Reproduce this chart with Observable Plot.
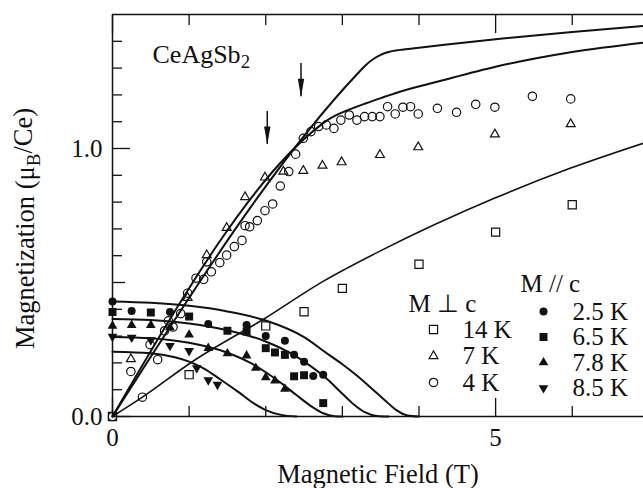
<!DOCTYPE html>
<html><head><meta charset="utf-8">
<script src="https://cdn.jsdelivr.net/npm/d3@7"></script>
<script src="https://cdn.jsdelivr.net/npm/@observablehq/plot@0.6"></script>
<style>body{margin:0;background:#fff}</style>
</head><body><div id="chart"></div>
<script>
// ---- data ----
// M perpendicular c, open symbols
const perp14KX = [0, 1.0, 2.0, 2.5, 3.0, 4.0, 5.0, 6.0];
const perp14KY = [0, 0.156, 0.338, 0.391, 0.478, 0.568, 0.688, 0.79];
const perp7KX = [0.24, 0.98, 1.23, 1.49, 1.73, 1.99, 2.23, 2.49, 2.74, 2.99, 3.49, 3.99, 4.99, 5.98];
const perp7KY = [0.214, 0.443, 0.602, 0.704, 0.819, 0.892, 0.914, 0.917, 0.936, 0.949, 0.976, 1.005, 1.053, 1.091];
const perp4KX = [0, 0.24, 0.39, 0.49, 0.59, 0.68, 0.73, 0.79, 0.89, 0.98, 1.09, 1.19, 1.23, 1.29, 1.40, 1.49, 1.59, 1.69, 1.73, 1.79, 1.89, 1.99, 2.09, 2.19, 2.30, 2.39, 2.49, 2.59, 2.69, 2.79, 2.89, 2.98, 3.09, 3.19, 3.29, 3.39, 3.49, 3.59, 3.69, 3.79, 3.89, 3.99, 4.24, 4.49, 4.74, 4.99, 5.48, 5.98];
const perp4KY = [0, 0.168, 0.072, 0.268, 0.212, 0.32, 0.357, 0.334, 0.384, 0.46, 0.516, 0.512, 0.577, 0.54, 0.574, 0.602, 0.634, 0.657, 0.712, 0.708, 0.731, 0.768, 0.793, 0.86, 0.914, 0.979, 1.038, 1.063, 1.082, 1.088, 1.075, 1.106, 1.125, 1.106, 1.119, 1.119, 1.119, 1.156, 1.129, 1.154, 1.156, 1.129, 1.15, 1.135, 1.165, 1.154, 1.195, 1.185];
// M parallel c, filled symbols
const par25KX = [0, 0.25, 0.75, 1.25, 1.75, 2.0, 2.25, 2.37, 2.5, 2.62, 2.75];
const par25KY = [0.429, 0.394, 0.39, 0.345, 0.341, 0.30, 0.283, 0.23, 0.204, 0.151, 0.156];
const par65KX = [0, 0.5, 1.0, 1.5, 1.75, 2.0, 2.12, 2.25, 2.37, 2.5, 2.75];
const par65KY = [0.39, 0.388, 0.373, 0.32, 0.317, 0.255, 0.239, 0.23, 0.15, 0.154, 0.05];
const par78KX = [0, 0.25, 0.5, 0.75, 1.0, 1.25, 1.5, 1.75, 1.87, 2.0, 2.12, 2.25];
const par78KY = [0.338, 0.341, 0.341, 0.332, 0.305, 0.255, 0.235, 0.227, 0.181, 0.146, 0.134, 0.103];
const par85KX = [0, 0.25, 0.5, 0.75, 1.0, 1.1, 1.25, 1.37];
const par85KY = [0.298, 0.295, 0.285, 0.264, 0.245, 0.181, 0.136, 0.119];
// model curves [field, magnetization]
const curve4KUpper = [[0,0],[3.2,1.28],[3.3,1.31],[3.4,1.333],[3.5,1.349],[3.6,1.36],[3.75,1.368],[4.0,1.376],[5.0,1.408],[6.0,1.435],[6.93,1.457]];
const curve4KLower = [[0,0],[2.72,1.088],[2.8,1.105],[2.9,1.122],[3.06,1.142],[3.3,1.168],[3.5,1.188],[3.75,1.212],[4.25,1.25],[5.0,1.305],[6.0,1.36],[6.93,1.395]];
const curve14K = [[0,0],[0.39,0.072],[1.06,0.208],[1.97,0.363],[2.76,0.506],[3.49,0.617],[4.99,0.815],[5.98,0.927],[6.93,1.02]];
const bell25K = [[0,0.429],[0.5,0.424],[1.0,0.413],[1.5,0.392],[2.0,0.358],[2.5,0.296],[2.8,0.235],[3.0,0.195],[3.2,0.15],[3.4,0.1],[3.55,0.062],[3.7,0.025],[3.85,0.004],[4.0,0]];
const bell65K = [[0,0.364],[0.5,0.36],[1.0,0.347],[1.5,0.322],[2.0,0.28],[2.3,0.24],[2.6,0.185],[2.8,0.14],[3.0,0.085],[3.15,0.045],[3.3,0.015],[3.45,0.002],[3.6,0]];
const bell78K = [[0,0.297],[0.5,0.292],[1.0,0.275],[1.5,0.238],[1.8,0.2],[2.0,0.165],[2.2,0.125],[2.4,0.08],[2.6,0.037],[2.75,0.012],[2.9,0.001],[3.0,0]];
const bell85K = [[0,0.242],[0.5,0.236],[0.8,0.222],[1.0,0.205],[1.2,0.178],[1.4,0.14],[1.65,0.09],[1.85,0.048],[2.0,0.024],[2.2,0.006],[2.4,0]];
// arrows
const arrowX = [2.02, 2.46];
const arrowTop = [1.138, 1.317];
const arrowTip = [1.015, 1.193];
// ticks and labels
const xMinorTicks = [1, 2, 3, 4, 6];
const xMajorTicks = [0, 5];
const yMinorTicks = [0.1, 0.2, 0.3, 0.4, 0.6, 0.7, 0.8, 0.9, 1.1, 1.2, 1.3, 1.4];
const yMidTicks = [0.5];
const yMajorTicks = [0, 1.0];
const compound = "CeAgSb2";
const xTitle = "Magnetic Field (T)";
const yTitle = "Magnetization (μB/Ce)";
const perpHeading = "M ⊥ c";
const parHeading = "M // c";
const perpLabels = ["14 K", "7 K", "4 K"];
const parLabels = ["2.5 K", "6.5 K", "7.8 K", "8.5 K"];

// ---- build ----
const pts = (xs, ys) => xs.map((x, i) => ({x, y: ys[i]}));
const FS = 25;
const TFS = 26.5;
const lineOpts = {x: d => d[0], y: d => d[1], curve: "monotone-x", stroke: "#111"};
const arrowHead = {draw(ctx) { ctx.moveTo(-3.2, -18); ctx.lineTo(3.2, -18); ctx.lineTo(0, 0); ctx.closePath(); }};
const txt = {textAnchor: "start", lineAnchor: "middle", fontSize: FS, fill: "#111"};

const perpSym = [
  {symbol: "square", r: 4.6},
  {symbol: "triangle", r: 3.3},
  {symbol: "circle", r: 4.2}
];
const parSym = [
  {symbol: "circle", r: 4.0},
  {symbol: "square", r: 4.5},
  {symbol: "triangle", r: 3.6},
  {symbol: "triangle", r: 3.6, rotate: 180}
];
const openStyle = {stroke: "#111", fill: "none", strokeWidth: 1.2};
const fillStyle = {fill: "#111", stroke: "none"};

const legendMarks = [
  Plot.text([perpHeading], {frameAnchor: "top-left", dx: 296, dy: 289, ...txt}),
  Plot.text([parHeading], {frameAnchor: "top-left", dx: 408, dy: 269, ...txt}),
  ...perpLabels.flatMap((lab, i) => [
    Plot.dot([lab], {frameAnchor: "top-left", dx: 321, dy: 315 + i * 26.5, ...perpSym[i], ...openStyle}),
    Plot.text([lab], {frameAnchor: "top-left", dx: 350, dy: 315 + i * 26.5, ...txt})
  ]),
  ...parLabels.flatMap((lab, i) => [
    Plot.dot([lab], {frameAnchor: "top-left", dx: 431, dy: 297 + i * 25.5, ...parSym[i], ...fillStyle}),
    Plot.text([lab], {frameAnchor: "top-left", dx: 460, dy: 297 + i * 25.5, ...txt})
  ])
];

const arrows = arrowX.map((x, i) => ({x, y1: arrowTop[i], y2: arrowTip[i]}));

const chart = Plot.plot({
  width: 643,
  height: 488,
  marginLeft: 112,
  marginRight: 0,
  marginTop: 14,
  marginBottom: 72,
  style: {fontFamily: "'Liberation Serif', 'Times New Roman', serif", fontSize: FS + "px", color: "#111", background: "#fff"},
  x: {domain: [0, 6.93]},
  y: {domain: [0, 1.5]},
  marks: [
    // frame (right side is cut off in the reference)
    Plot.ruleX([0], {stroke: "#111", strokeWidth: 1.5}),
    Plot.ruleY([0, 1.5], {stroke: "#111", strokeWidth: 1.5}),
    // ticks pointing inward
    Plot.axisX(xMinorTicks, {anchor: "bottom", tickSize: -10, tickFormat: () => "", label: null, strokeWidth: 1.3}),
    Plot.axisX(xMajorTicks, {anchor: "bottom", tickSize: -18, tickFormat: () => "", label: null, strokeWidth: 1.3}),
    Plot.axisX(xMinorTicks, {anchor: "top", tickSize: -10, tickFormat: () => "", label: null, strokeWidth: 1.3}),
    Plot.axisX(xMajorTicks, {anchor: "top", tickSize: -18, tickFormat: () => "", label: null, strokeWidth: 1.3}),
    Plot.axisY(yMinorTicks, {anchor: "left", tickSize: -10, tickFormat: () => "", label: null, strokeWidth: 1.3}),
    Plot.axisY(yMidTicks, {anchor: "left", tickSize: -13, tickFormat: () => "", label: null, strokeWidth: 1.3}),
    Plot.axisY(yMajorTicks, {anchor: "left", tickSize: -18, tickFormat: () => "", label: null, strokeWidth: 1.3}),
    // tick labels
    Plot.axisX(xMajorTicks, {anchor: "bottom", tickSize: 0, tickPadding: 12, tickFormat: d => String(d), fontSize: FS, label: null}),
    Plot.axisY(yMajorTicks, {anchor: "left", tickSize: 0, tickPadding: 10, tickFormat: d3.format(".1f"), fontSize: FS, label: null}),
    // model curves
    Plot.line(curve4KUpper, {...lineOpts, strokeWidth: 2}),
    Plot.line(curve4KLower, {...lineOpts, strokeWidth: 2}),
    Plot.line(curve14K, {...lineOpts, strokeWidth: 1.6}),
    Plot.line(bell25K, {...lineOpts, strokeWidth: 2}),
    Plot.line(bell65K, {...lineOpts, strokeWidth: 2}),
    Plot.line(bell78K, {...lineOpts, strokeWidth: 2}),
    Plot.line(bell85K, {...lineOpts, strokeWidth: 2}),
    // data
    Plot.dot(pts(perp14KX, perp14KY), {x: "x", y: "y", ...perpSym[0], ...openStyle}),
    Plot.dot(pts(perp7KX, perp7KY), {x: "x", y: "y", ...perpSym[1], ...openStyle}),
    Plot.dot(pts(perp4KX, perp4KY), {x: "x", y: "y", ...perpSym[2], ...openStyle}),
    Plot.dot(pts(par25KX, par25KY), {x: "x", y: "y", ...parSym[0], ...fillStyle}),
    Plot.dot(pts(par65KX, par65KY), {x: "x", y: "y", ...parSym[1], ...fillStyle}),
    Plot.dot(pts(par78KX, par78KY), {x: "x", y: "y", ...parSym[2], ...fillStyle}),
    Plot.dot(pts(par85KX, par85KY), {x: "x", y: "y", ...parSym[3], ...fillStyle}),
    // arrows
    Plot.ruleX(arrows, {x: "x", y1: "y1", y2: "y2", stroke: "#111", strokeWidth: 1.5}),
    Plot.dot(arrows, {x: "x", y: "y2", symbol: arrowHead, r: 4, fill: "#111", stroke: "none"}),
    // texts
    Plot.text([compound], {frameAnchor: "top-left", dx: 40, dy: 40, ...txt, fontSize: 26}),
    Plot.text([xTitle], {frameAnchor: "bottom", dy: 58, ...txt, fontSize: TFS, textAnchor: "middle"}),
    Plot.text([yTitle], {frameAnchor: "left", dx: -87, dy: 13, rotate: -90, ...txt, fontSize: TFS, textAnchor: "middle"}),
    ...legendMarks
  ]
});
document.getElementById("chart").appendChild(chart);

// subscripts
function subscript(full, before, sub, after) {
  d3.select(chart).selectAll("text").filter(function () { return this.textContent === full; })
    .each(function () {
      const t = d3.select(this);
      t.text(null);
      t.append("tspan").text(before);
      t.append("tspan").attr("dy", "0.3em").attr("font-size", "0.72em").text(sub);
      if (after) t.append("tspan").attr("dy", "-0.3em").text(after);
    });
}
subscript(compound, "CeAgSb", "2", "");
subscript(yTitle, "Magnetization (μ", "B", "/Ce)");
</script></body></html>
